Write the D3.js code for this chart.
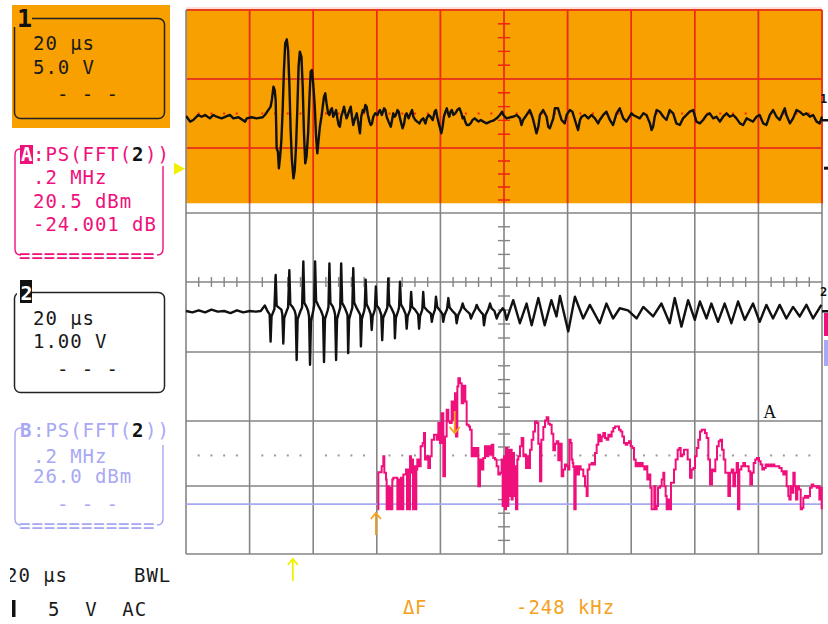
<!DOCTYPE html>
<html>
<head>
<meta charset="utf-8">
<script src="https://cdn.jsdelivr.net/npm/d3@7"></script>
<style>
  html, body { margin: 0; padding: 0; background: #fff; }
  svg { display: block; }
  text { white-space: pre; }
</style>
</head>
<body>
<svg id="scope" width="828" height="624"></svg>
<script>
// ---- Channel 1: time (µs) and voltage (V), 20 µs/div, 5.0 V/div ----
const ch1Trace = [
  [0,0.02],[0.2,0.02],[1.3,-0.34],[2.3,-0.22],[3.9,0.15],[4.9,0.02],[6.0,0.15],[7.5,-0.1],[8.6,0.15],[9.6,0.02],
  [11.2,-0.1],[13.8,0.15],[14.9,-0.1],[16.5,-0.02],[18.6,-0.34],[19.1,-0.1],[20.6,-0.02],[22.2,-0.1],[24.1,-0.02],
  [24.8,0.15],[25.9,0.51],[26.6,0.76],[27.0,1.25],[27.5,2.23],[27.9,1.98],[28.2,1.25],[28.5,-2.30],[28.9,-2.55],
  [29.2,-3.77],[29.6,-2.92],[30.0,-1.69],[30.4,0.51],[30.8,3.45],[31.2,5.41],[31.7,5.71],[32.1,4.92],[32.5,2.47],
  [32.9,-0.96],[33.3,-3.16],[33.8,-4.51],[34.2,-3.90],[34.6,-2.18],[35.0,0.51],[35.4,3.70],[35.8,4.80],[36.3,4.43],
  [36.7,2.23],[37.1,-1.20],[37.5,-3.41],[37.9,-2.92],[38.4,-1.20],[38.8,1.25],[39.2,3.33],[39.6,3.45],[40.0,2.47],
  [40.5,0.76],[40.9,-1.45],[41.3,-2.67],[41.7,-1.69],[42.1,-0.71],[42.6,0.02],[43.0,0.76],[43.4,1.49],[43.8,1.74],
  [44.2,1.00],[44.7,0.27],[45.1,0.15],[45.5,0.51],[45.9,0.64],[46.3,0.02],[46.8,0.27],[47.2,0.51],[47.6,-0.10],
  [48.0,-0.59],[48.4,-0.71],[48.8,0.02],[49.3,0.39],[49.7,0.76],[50.1,0.27],[50.5,-0.10],[50.9,0.15],[51.4,0.51],
  [51.8,0.76],[52.2,0.02],[52.6,-0.59],[53.0,-0.22],[53.7,0.27],[54.3,-0.59],[54.7,-1.20],[55.1,0.02],[55.6,0.51],
  [56.0,0.39],[56.4,0.88],[56.8,0.76],[57.2,0.15],[57.7,-0.34],[58.1,-0.59],[58.5,-0.47],[58.9,0.02],[59.5,0.27],
  [60.2,0.15],[60.6,0.39],[61.0,0.51],[61.6,0.15],[62.3,0.64],[62.7,0.51],[63.1,0.02],[63.7,-0.34],[64.4,-0.71],
  [64.8,-0.22],[65.2,0.27],[65.6,0.02],[66.0,0.15],[66.5,0.51],[66.9,0.39],[67.3,-0.10],[67.7,-0.47],[68.1,-0.83],
  [68.6,-0.47],[69.0,0.15],[69.4,0.27],[70.0,-0.10],[70.4,0.15],[71.1,0.51],[71.5,0.02],[72.1,-0.22],[72.7,-0.34],
  [73.4,-0.47],[74.0,-0.22],[74.6,-0.10],[75.3,-0.47],[75.7,-0.10],[76.3,0.15],[76.9,0.02],[77.6,-0.22],[78.2,0.39],
  [78.6,0.51],[79.0,0.02],[79.5,-0.47],[79.9,-0.83],[80.3,-1.20],[80.7,-0.71],[81.1,0.02],[81.6,0.39],[82.0,0.64],
  [82.4,0.27],[82.8,0.02],[83.2,0.39],[83.6,0.51],[84.1,0.15],[84.7,0.27],[85.3,0.51],[86.0,0.64],[86.6,0.27],
  [87.0,-0.10],[87.4,0.02],[87.8,-0.34],[88.3,-0.59],[88.9,-0.59],[89.5,-0.47],[90.1,-0.22],[90.8,-0.10],[91.4,-0.22],
  [92.0,-0.34],[92.7,-0.22],[93.5,-0.34],[94.5,-0.47],[95.6,-0.34],[96.6,-0.27],[97.7,-0.10],[98.7,0.15],[99.4,0.39],
  [99.8,0.15],[100.8,-0.10],[101.9,-0.02],[102.9,0.02],[104.0,0.15],[105.0,-0.10],[105.5,-0.59],[106.0,-0.22],
  [107.1,0.15],[108.1,0.51],[108.7,0.15],[109.2,-0.22],[110.2,-1.20],[110.8,-0.71],[111.3,0.15],[112.3,0.51],
  [113.4,0.02],[113.9,-0.71],[114.4,-0.83],[115.5,-0.10],[116.0,0.64],[117.0,0.64],[117.6,0.15],[118.1,-0.22],
  [119.1,-0.47],[119.7,0.15],[120.7,0.51],[121.5,0.39],[122.3,-0.22],[122.8,-0.59],[123.3,-0.96],[123.9,-0.22],
  [124.4,0.02],[125.4,0.15],[126.5,-0.10],[127.5,0.15],[128.6,-0.10],[129.6,-0.47],[130.1,-0.22],[131.2,0.15],
  [132.2,0.39],[133.3,-0.22],[134.3,-0.59],[135.4,0.27],[136.4,0.64],[137.5,-0.10],[138.5,-0.34],[140.1,0.27],
  [140.6,0.15],[141.7,0.02],[142.7,-0.10],[143.8,0.27],[144.8,0.15],[145.9,-0.47],[146.4,-0.96],[146.9,-0.71],
  [147.4,0.02],[148.0,0.51],[149.0,0.39],[150.1,0.02],[151.1,-0.22],[152.1,0.51],[153.2,0.27],[154.2,-0.47],
  [155.3,-0.59],[156.3,-0.10],[157.4,0.15],[158.4,0.39],[159.5,0.51],[160.5,-0.34],[161.6,-0.47],[162.6,-0.22],
  [163.7,0.15],[164.7,0.27],[165.8,-0.10],[166.8,0.02],[167.9,-0.34],[168.9,0.02],[170.0,0.27],[171.0,0.02],
  [172.1,0.15],[173.1,-0.10],[174.2,-0.47],[175.2,-0.59],[176.3,-0.10],[177.3,-0.22],[178.3,-0.34],[179.4,0.02],
  [180.4,0.15],[181.5,-0.47],[182.5,-0.59],[183.6,0.15],[184.6,0.51],[185.7,0.02],[186.7,-0.22],[187.8,0.39],
  [188.3,0.64],[188.8,0.15],[189.9,-0.47],[190.9,-0.10],[192.0,0.51],[193.0,0.39],[194.1,0.15],[195.1,0.27],
  [196.2,0.02],[197.2,0.15],[198.3,-0.34],[199.3,-0.47],[200,0.02]
];

// ---- Channel 2: time (µs) and voltage (V), 20 µs/div, 1.00 V/div ----
const ch2Trace = [
  [0,0.0],[2,-0.02],[4,0.01],[6,-0.02],[8,0.02],[10,-0.01],[12,0.0],[14,-0.03],[16,0.01],[18,-0.02],[20,0.0],
  [22,-0.01],[23.5,0.0],[24.8,0.08],[25.6,0.0],
  [26.3,-0.05],[26.6,-0.45],[26.9,-0.08],[27.8,0.03],[28.2,0.53],[28.5,0.08],[29.2,0.05],[30.0,0.02],
  [30.3,-0.05],[30.6,-0.48],[30.9,-0.10],[31.8,0.02],[32.1,0.05],[32.5,0.60],[32.8,0.10],[33.5,0.06],[34.2,0.0],
  [34.5,-0.06],[34.8,-0.72],[35.1,-0.12],[36.0,0.0],[36.5,0.05],[36.9,0.73],[37.2,0.12],[37.9,0.06],[38.4,0.0],
  [38.7,-0.08],[39.0,-0.79],[39.3,-0.15],[40.0,0.0],[40.3,0.08],[40.6,0.73],[40.9,0.15],[41.7,0.07],[42.5,0.0],
  [43.1,-0.08],[43.4,-0.75],[43.7,-0.12],[44.5,0.0],[44.8,0.06],[45.1,0.70],[45.4,0.12],[46.2,0.06],[46.7,-0.01],
  [46.9,-0.06],[47.2,-0.72],[47.5,-0.12],[48.2,0.0],[48.5,0.05],[48.8,0.70],[49.1,0.12],[49.9,0.05],[50.5,-0.02],
  [50.8,-0.06],[51.0,-0.62],[51.3,-0.12],[52.0,0.0],[52.3,0.05],[52.6,0.63],[52.9,0.12],[53.6,0.05],[54.5,-0.03],
  [54.8,-0.06],[55.0,-0.52],[55.3,-0.12],[56.0,0.0],[56.2,0.05],[56.5,0.46],[56.8,0.10],[57.5,0.03],
  [58.1,-0.05],[58.4,-0.28],[58.7,-0.08],[59.4,0.02],[59.7,0.36],[60.0,0.08],[60.8,0.03],[61.2,-0.03],
  [61.4,-0.05],[61.7,-0.43],[62.0,-0.10],[62.9,0.0],[63.3,0.05],[63.6,0.48],[63.9,0.10],[64.6,0.04],[65.3,-0.03],
  [65.5,-0.06],[65.7,-0.40],[66.0,-0.10],[66.7,0.0],[67.0,0.05],[67.3,0.43],[67.6,0.10],[68.4,0.03],
  [69.1,-0.05],[69.4,-0.26],[69.7,-0.08],[70.5,0.02],[70.8,0.28],[71.1,0.06],[72.0,0.02],
  [73.0,-0.05],[73.3,-0.26],[73.6,-0.08],[74.3,0.02],[74.6,0.28],[74.9,0.06],[75.8,0.01],
  [77.0,-0.04],[77.3,-0.16],[77.7,-0.06],[78.3,0.02],[78.6,0.21],[79.0,0.06],[79.8,0.01],
  [80.6,-0.04],[80.9,-0.16],[81.3,-0.06],[82.1,0.03],[82.5,0.19],[82.9,0.05],[83.8,0.0],
  [84.8,-0.05],[85.1,-0.18],[85.6,-0.06],[86.5,0.03],[87.0,0.11],[87.5,0.04],[88.3,0.0],
  [89.2,-0.04],[89.6,-0.11],[90.2,-0.04],[91.0,0.03],[91.4,0.09],[92.0,0.03],[92.8,-0.02],
  [93.4,-0.05],[93.7,-0.21],[94.2,-0.06],[95.1,0.03],[95.6,0.11],[96.1,0.04],[97.0,0.0],
  [97.7,-0.11],[98.3,-0.04],[99.6,0.04],[100.2,0.0],
  [100.8,-0.13],[102.9,0.16],[105.0,-0.18],[107.1,0.11],[108.7,-0.21],[110.8,0.19],[112.8,-0.21],[114.9,0.16],
  [116.5,-0.08],[117.6,0.22],[120.2,-0.30],[122.3,0.21],[124.9,-0.11],[127.0,0.09],[130.1,-0.18],[132.2,0.11],
  [134.3,-0.11],[136.4,0.04],[139.0,0.01],[141.7,-0.11],[143.8,0.06],[146.9,-0.08],[149.5,0.11],[152.1,-0.18],
  [153.7,0.19],[155.8,-0.23],[157.9,0.16],[160.0,-0.13],[161.6,0.14],[163.7,-0.11],[165.2,0.11],[167.3,-0.16],
  [169.4,0.11],[171.5,-0.18],[173.6,0.14],[175.7,-0.13],[178.3,0.11],[180.4,-0.16],[182.5,0.09],[184.6,-0.11],
  [186.7,0.09],[188.8,-0.11],[190.9,0.06],[193.0,-0.08],[195.1,0.09],[197.2,-0.11],[199.8,0.09]
];

// ---- Trace A: power spectrum of channel 2, frequency (kHz) and level (dBm) ----
const fftA = [
  [602.7,1.4],[604.8,12.6],[615.3,14.4],[620.5,17.4],[623.7,12.4],[628.9,10.4],[631,1.4],[634,8.4],[637.4,1.4],
  [641.5,7.9],[644.6,1.4],[648.8,10.4],[652,10.9],[660.4,10.9],[664.6,1.4],[668.8,10.4],[671.9,1.4],[676.1,10.9],
  [679.2,1.4],[683.4,11.9],[688.7,11.9],[691.8,13.4],[695,1.4],[698.1,13.4],[701.3,1.4],[704.4,17.4],[707.5,12.4],
  [710.7,16.4],[713.8,1.4],[717,14.4],[721.2,1.4],[724.3,13.4],[727.4,16.4],[731.6,14.4],[737.9,20.4],[744.2,21.4],
  [748.4,24.4],[751.6,16.4],[756.8,17.4],[762,13.9],[767.3,17.4],[772.5,22.4],[779.9,23.9],[788.2,22.4],[793.5,27.4],
  [798.7,21.4],[804,30.4],[809.2,11.4],[814.4,23.4],[819.7,31.4],[824.9,27.9],[830.2,27.4],[835.4,33.9],[840.7,28.4],
  [845.9,36.4],[849.1,23.4],[853.3,38.4],[856.4,40.9],[861.6,39.4],[866.9,33.4],[872.1,38.7],[878.4,33.9],[882.6,26.9],
  [888.9,26.4],[893.1,25.4],[898.3,17.4],[903.6,19.9],[908.8,17.4],[914,19.9],[919.3,8.4],[924.5,16.4],[929.8,13.4],
  [935,16.9],[940.2,20.4],[945.5,17.4],[950.7,20.4],[956,17.9],[961.2,20.9],[966.4,16.9],[971.7,16.4],[976.9,14.4],
  [982.2,11.9],[987.4,12.4],[992.6,16.4],[995.8,2.4],[1000,17.4],[1003.1,1.4],[1006.3,19.9],[1010.5,2.4],
  [1013.6,19.4],[1016.7,5.4],[1020.9,19.4],[1024.1,4.4],[1027.2,18.4],[1031.4,5.4],[1034.6,14.4],[1037.7,1.4],
  [1041.9,16.4],[1045,17.4],[1050.3,20.4],[1055.5,22.9],[1060.8,17.4],[1066,17.9],[1069.1,13.9],[1073.3,17.4],
  [1076.5,13.9],[1081.7,19.4],[1087,22.4],[1092.2,24.9],[1097.4,27.9],[1102.7,27.4],[1107.9,21.2],[1113.2,9.9],
  [1117.4,22.4],[1123.6,26.2],[1128.9,28.2],[1134.1,29.2],[1139.4,27.2],[1144.6,26.9],[1149.8,24.2],[1155.1,19.2],
  [1160.3,21.2],[1165.6,21.9],[1170.8,16.2],[1176,21.2],[1181.3,11.4],[1186.5,13.4],[1191.8,14.9],[1197,14.4],
  [1202.3,13.4],[1205.4,22.4],[1209.6,21.4],[1212.7,16.4],[1215.9,15.4],[1218,14.2],[1221.1,1.4],[1225.3,14.4],
  [1230.6,11.9],[1235.8,14.4],[1241,13.4],[1249.4,11.4],[1254.7,8.4],[1259.9,5.4],[1263,13.4],[1268.3,14.9],
  [1275.6,15.4],[1280.9,14.9],[1286.1,18.4],[1291.4,20.9],[1296.6,23.9],[1301.8,21.9],[1307.1,23.4],[1312.3,24.4],
  [1317.6,22.9],[1322.8,22.4],[1328.1,23.9],[1333.3,23.4],[1338.5,24.9],[1343.8,25.9],[1349,26.4],[1356.4,26.4],
  [1361.6,25.4],[1366.9,24.9],[1372.1,23.4],[1377.3,21.4],[1382.6,20.9],[1387.8,21.4],[1393.1,21.9],[1398.3,20.4],
  [1403.6,19.9],[1408.8,16.4],[1414,14.4],[1419.3,15.4],[1424.5,14.4],[1429.8,15.4],[1436,14.4],[1441.3,13.4],
  [1446.5,14.4],[1450.7,10.4],[1455.9,11.9],[1460.1,7.9],[1464.3,1.4],[1469.6,1.4],[1472.7,8.4],[1475.9,1.4],
  [1480,2.4],[1484.2,7.9],[1490.5,8.4],[1495.8,10.4],[1501,12.4],[1504.1,8.4],[1508.3,5.4],[1511.5,1.4],
  [1516.7,4.4],[1522,1.4],[1525.1,9.4],[1530.4,9.4],[1534.6,13.4],[1539.8,16.4],[1546.1,19.4],[1551.3,19.9],
  [1555.5,17.4],[1560.8,17.9],[1566,19.4],[1572.3,19.4],[1577.5,16.4],[1584.9,10.9],[1590.1,13.4],[1595.4,13.9],
  [1600.6,17.4],[1605.8,19.9],[1611.1,22.4],[1616.3,24.9],[1621.6,25.4],[1626.8,25.4],[1632.1,24.4],[1637.3,22.9],
  [1642.6,16.4],[1647.8,8.9],[1654.1,13.4],[1659.3,12.9],[1664.6,16.4],[1669.8,20.4],[1675.1,21.9],[1680.3,22.4],
  [1685.6,19.4],[1690.8,16.4],[1696,12.4],[1701.3,12.4],[1705.5,5.4],[1710.7,12.4],[1716,13.4],[1721.2,8.4],
  [1726.4,12.4],[1731.7,15.4],[1735.9,1.4],[1740.1,13.4],[1746.4,14.4],[1752.6,15.4],[1757.8,14.4],[1764.1,14.4],
  [1769.4,12.9],[1774.6,8.9],[1779.8,12.4],[1785.1,15.4],[1790.3,16.4],[1795.6,16.9],[1801.8,15.9],[1807.1,14.9],
  [1812.3,13.4],[1817.6,13.9],[1822.8,14.9],[1828.1,14.4],[1834.3,14.9],[1839.6,14.4],[1844.8,14.9],[1850.1,14.4],
  [1857.4,14.4],[1865.8,13.9],[1873.1,12.9],[1878.4,11.9],[1883.6,12.9],[1888.8,8.4],[1894.1,5.4],[1897.3,4.4],
  [1901.5,8.4],[1905.7,6.4],[1909.9,12.4],[1914.1,8.4],[1918.3,4.4],[1922.5,8.4],[1927.7,7.4],[1933,1.4],
  [1937.2,1.9],[1941.4,4.9],[1946.6,5.4],[1951.9,4.9],[1957.1,5.4],[1962.3,7.9],[1967.6,8.9],[1972.8,8.4],
  [1978.1,8.4],[1983.3,7.9],[1988.5,8.4],[1991.7,4.4],[1995.9,7.9],[1999,1.4]
];

// ---- Trace B: flat power-spectrum reference, frequency (kHz) and level (dBm) ----
const fftB = [[0,3.0],[500,3.0],[1000,3.0],[1500,3.0],[2000,3.0]];

// ---- Cursors on trace A (kHz) and trigger position (µs) ----
const cursorsKHz = [845, 597];
const triggerUs = 33.6;
const trigLevelV = -3.8;

// ---- Panel texts ----
const ch1Panel = ["20 µs", "5.0 V", "- - -"];
const ch2Panel = ["20 µs", "1.00 V", "- - -"];
const mathA = [".2 MHz", "20.5 dBm", "-24.001 dB"];
const mathB = [".2 MHz", "26.0 dBm", "- - -"];
const footer = { timebase: "20 µs", bwl: "BWL", coupling: "5  V  AC" };

// ================= drawing =================
const svg = d3.select("#scope");
const MONO = '"DejaVu Sans Mono", monospace';
const GRAY = "#858585", RED = "#ff2400", ORANGE = "#f8a000";
const PINK = "#f0107c", LAV = "#a8a8f4", YEL = "#f0f000", CURS = "#f5a21e";

// Screen divisions
const divX = d3.scaleLinear().domain([0, 10]).range([186, 822]);
const divY = d3.scaleLinear().domain(d3.range(9)).range([10, 79, 148, 213, 282, 352, 421, 486, 554]);

// Trace scales
const xTime = d3.scaleLinear().domain([0, 200]).range([186, 822]);
const xFreq = d3.scaleLinear().domain([0, 2000]).range([186, 822]);
const yCh1 = d3.scaleLinear().domain([-10, 10]).range([117 + 136, 117 - 136]);
const yCh2 = d3.scaleLinear().domain([-1, 1]).range([311 + 68, 311 - 68]);
const yDb = d3.scaleLinear().domain([0, 20.5]).range([514, 446]);

svg.append("rect").attr("width", 828).attr("height", 624).attr("fill", "#fff");

// Channel 1 zone (orange)
const zoneTop = divY(0) - 1, zoneBot = divY(2.85);
svg.append("rect").attr("x", divX(0)).attr("y", zoneTop)
  .attr("width", divX(10) - divX(0)).attr("height", zoneBot - zoneTop).attr("fill", ORANGE);
svg.append("line").attr("x1", divX(0)).attr("x2", divX(10)).attr("y1", zoneTop - 1).attr("y2", zoneTop - 1)
  .attr("stroke", "#ffc0b0").attr("stroke-width", 1);

svg.append("clipPath").attr("id", "zone").append("rect")
  .attr("x", divX(0) + 1).attr("y", zoneTop).attr("width", divX(10) - divX(0) + 2).attr("height", zoneBot - zoneTop);

function drawGrid(g, color, skipLeft) {
  g.selectAll("line.v").data(d3.range(skipLeft ? 1 : 0, 11)).join("line")
    .attr("x1", d => divX(d)).attr("x2", d => divX(d)).attr("y1", divY(0)).attr("y2", divY(8))
    .attr("stroke", color).attr("stroke-width", 1.6);
  g.append("g").selectAll("line").data(d3.range(0, 9)).join("line")
    .attr("x1", divX(0)).attr("x2", divX(10)).attr("y1", d => divY(d)).attr("y2", d => divY(d))
    .attr("stroke", color).attr("stroke-width", 1.6);
  const minorY = [];
  for (let j = 0; j < 8; j++) for (let k = 1; k < 5; k++) minorY.push(j + k / 5);
  const minorX = [];
  for (let i = 0; i < 10; i++) for (let k = 1; k < 5; k++) minorX.push(i + k / 5);
  g.append("g").selectAll("line").data(minorY).join("line")
    .attr("x1", divX(5) - 6).attr("x2", divX(5) + 6).attr("y1", d => divY(d)).attr("y2", d => divY(d))
    .attr("stroke", color).attr("stroke-width", 1.4);
  g.append("g").selectAll("line").data(minorX).join("line")
    .attr("x1", d => divX(d)).attr("x2", d => divX(d)).attr("y1", divY(4) - 5).attr("y2", divY(4) + 5)
    .attr("stroke", color).attr("stroke-width", 1.4);
}
drawGrid(svg.append("g"), GRAY, false);
drawGrid(svg.append("g").attr("clip-path", "url(#zone)"), RED, true);

// Dotted reference rows
function dotRow(yPos, color) {
  const pts = [];
  for (let i = 0; i < 10; i++) for (let k = 1; k < 5; k++) pts.push(i + k / 5);
  svg.append("g").selectAll("rect").data(pts).join("rect")
    .attr("x", d => divX(d) - 1).attr("y", yPos - 1).attr("width", 2).attr("height", 2).attr("fill", color);
}
dotRow(divY(1.5), RED);
dotRow(divY(6.53), "#9a9a9a");

// Trace B (flat)
svg.append("path").datum(fftB)
  .attr("d", d3.line().x(d => xFreq(d[0])).y(d => yDb(d[1])))
  .attr("fill", "none").attr("stroke", LAV).attr("stroke-width", 1.8);

// Trace A
svg.append("path").datum(fftA)
  .attr("d", d3.line().x(d => xFreq(d[0])).y(d => yDb(d[1])).curve(d3.curveStepAfter))
  .attr("fill", "none").attr("stroke", PINK).attr("stroke-width", 2).attr("stroke-linejoin", "miter");

// Channel traces
svg.append("path").datum(ch1Trace)
  .attr("d", d3.line().x(d => xTime(d[0])).y(d => yCh1(d[1])))
  .attr("fill", "none").attr("stroke", "#111").attr("stroke-width", 2.4).attr("stroke-linejoin", "round");
svg.append("path").datum(ch2Trace)
  .attr("d", d3.line().x(d => xTime(d[0])).y(d => yCh2(d[1])))
  .attr("fill", "none").attr("stroke", "#111").attr("stroke-width", 2.4).attr("stroke-linejoin", "round");

// Cursor arrows on trace A, trigger position arrow
function arrow(x, yTip, len, up, color) {
  const dir = up ? 1 : -1;
  const g = svg.append("g").attr("stroke", color).attr("stroke-width", 1.8).attr("fill", "none");
  g.append("line").attr("x1", x).attr("x2", x).attr("y1", yTip).attr("y2", yTip + dir * len);
  g.append("polyline").attr("points", `${x - 5},${yTip + dir * 6} ${x},${yTip} ${x + 5},${yTip + dir * 6}`);
}
arrow(xFreq(cursorsKHz[1]), 513, 22, true, CURS);
arrow(xFreq(cursorsKHz[0]), 433, 22, false, CURS);
arrow(xTime(triggerUs), 559, 22, true, YEL);

// Trigger level marker (left) and right-edge markers
const tl = yCh1(trigLevelV);
svg.append("polygon").attr("points", `174,${tl - 6} 174,${tl + 6} 185,${tl}`).attr("fill", YEL);
svg.append("rect").attr("x", 824).attr("y", tl - 2).attr("width", 4).attr("height", 3).attr("fill", "#111");
svg.append("rect").attr("x", 822).attr("y", yCh1(0) + 2).attr("width", 6).attr("height", 2.5).attr("fill", "#111");
svg.append("rect").attr("x", 822).attr("y", yCh2(0) - 1).attr("width", 6).attr("height", 2.5).attr("fill", "#111");
svg.append("rect").attr("x", 824).attr("y", 313).attr("width", 4).attr("height", 23).attr("fill", PINK);
svg.append("rect").attr("x", 824).attr("y", 340).attr("width", 4).attr("height", 26).attr("fill", LAV);

// Text helper
function txt(x, y, s, color, opts = {}) {
  return svg.append("text").attr("x", x).attr("y", y).text(s)
    .attr("fill", color)
    .attr("font-family", opts.family || MONO)
    .attr("font-size", opts.size || 19)
    .attr("font-weight", opts.weight || "normal")
    .attr("letter-spacing", opts.ls !== undefined ? opts.ls : 0.95);
}
// Channel numbers at the right edge
txt(820, 103, "1", "#111", { size: 12, weight: "bold", ls: 0 });
txt(820, 296, "2", "#111", { size: 12, weight: "bold", ls: 0 });
txt(xFreq(1815), yDb(29), "A", "#111", { family: '"Liberation Serif", serif', size: 18, ls: 0 });

// Channel 1 panel
svg.append("rect").attr("x", 12).attr("y", 5).attr("width", 158).attr("height", 123).attr("fill", ORANGE);
svg.append("rect").attr("x", 14.5).attr("y", 18.5).attr("width", 150).attr("height", 100).attr("rx", 6)
  .attr("fill", "none").attr("stroke", "#222").attr("stroke-width", 1.5);
svg.append("rect").attr("x", 13).attr("y", 7).attr("width", 19).attr("height", 20).attr("fill", ORANGE);
txt(17, 27, "1", "#111", { size: 25, weight: "bold", ls: 0 });
txt(33, 50, ch1Panel[0], "#1a1a1a");
txt(33, 74, ch1Panel[1], "#1a1a1a");
txt(57, 101, ch1Panel[2], "#1a1a1a");

// Math A panel
svg.append("rect").attr("x", 20).attr("y", 145).attr("width", 13).attr("height", 19).attr("fill", PINK);
txt(21, 161, "A", "#fff", { weight: "bold", ls: 0 });
txt(33, 161, ":PS(FFT(", PINK);
txt(132, 161, "2", "#111", { weight: "bold" });
txt(145, 161, "))", PINK);
txt(33, 184, mathA[0], PINK);
txt(33, 208, mathA[1], PINK);
txt(33, 231, mathA[2], PINK);
svg.append("path").attr("d", "M20,149 Q15,149 15,155 V249 Q15,255 21,255 M163,166 V249 Q163,255 157,255")
  .attr("fill", "none").attr("stroke", PINK).attr("stroke-width", 1.4);
txt(19, 262, "===========", PINK, { ls: 0.95 });

// Channel 2 panel
svg.append("rect").attr("x", 14.5).attr("y", 292.5).attr("width", 150).attr("height", 100).attr("rx", 6)
  .attr("fill", "none").attr("stroke", "#222").attr("stroke-width", 1.5);
svg.append("rect").attr("x", 17).attr("y", 281).attr("width", 15).attr("height", 22).attr("fill", "#fff");
svg.append("rect").attr("x", 20).attr("y", 280).attr("width", 12).attr("height", 23).attr("fill", "#111");
txt(20.5, 300, "2", "#fff", { size: 20, weight: "bold", ls: 0 });
txt(33, 325, ch2Panel[0], "#1a1a1a");
txt(33, 348, ch2Panel[1], "#1a1a1a");
txt(57, 376, ch2Panel[2], "#1a1a1a");

// Math B panel
txt(20, 437, "B", LAV, { weight: "bold", ls: 0 });
txt(33, 437, ":PS(FFT(", LAV);
txt(132, 437, "2", "#111", { weight: "bold" });
txt(145, 437, "))", LAV);
txt(33, 463, mathB[0], LAV);
txt(33, 483, mathB[1], LAV);
txt(57, 511, mathB[2], LAV);
svg.append("path").attr("d", "M21,428 Q15,428 15,434 V519 Q15,525 21,525 M163,445 V519 Q163,525 157,525")
  .attr("fill", "none").attr("stroke", LAV).attr("stroke-width", 1.4);
txt(19, 532, "===========", LAV, { ls: 0.95 });

// Footer
svg.append("clipPath").attr("id", "footclip").append("rect").attr("x", 10).attr("y", 560).attr("width", 200).attr("height", 30);
txt(6, 582, footer.timebase, "#1a1a1a").attr("clip-path", "url(#footclip)");
txt(134, 582, footer.bwl, "#1a1a1a");
svg.append("rect").attr("x", 12).attr("y", 600).attr("width", 3.5).attr("height", 17).attr("fill", "#111");
txt(48, 616, footer.coupling, "#1a1a1a");
txt(403, 614, "ΔF", CURS, { ls: 0.5 });
txt(516, 614, `${cursorsKHz[1] - cursorsKHz[0]} kHz`, CURS);
</script>
</body>
</html>
